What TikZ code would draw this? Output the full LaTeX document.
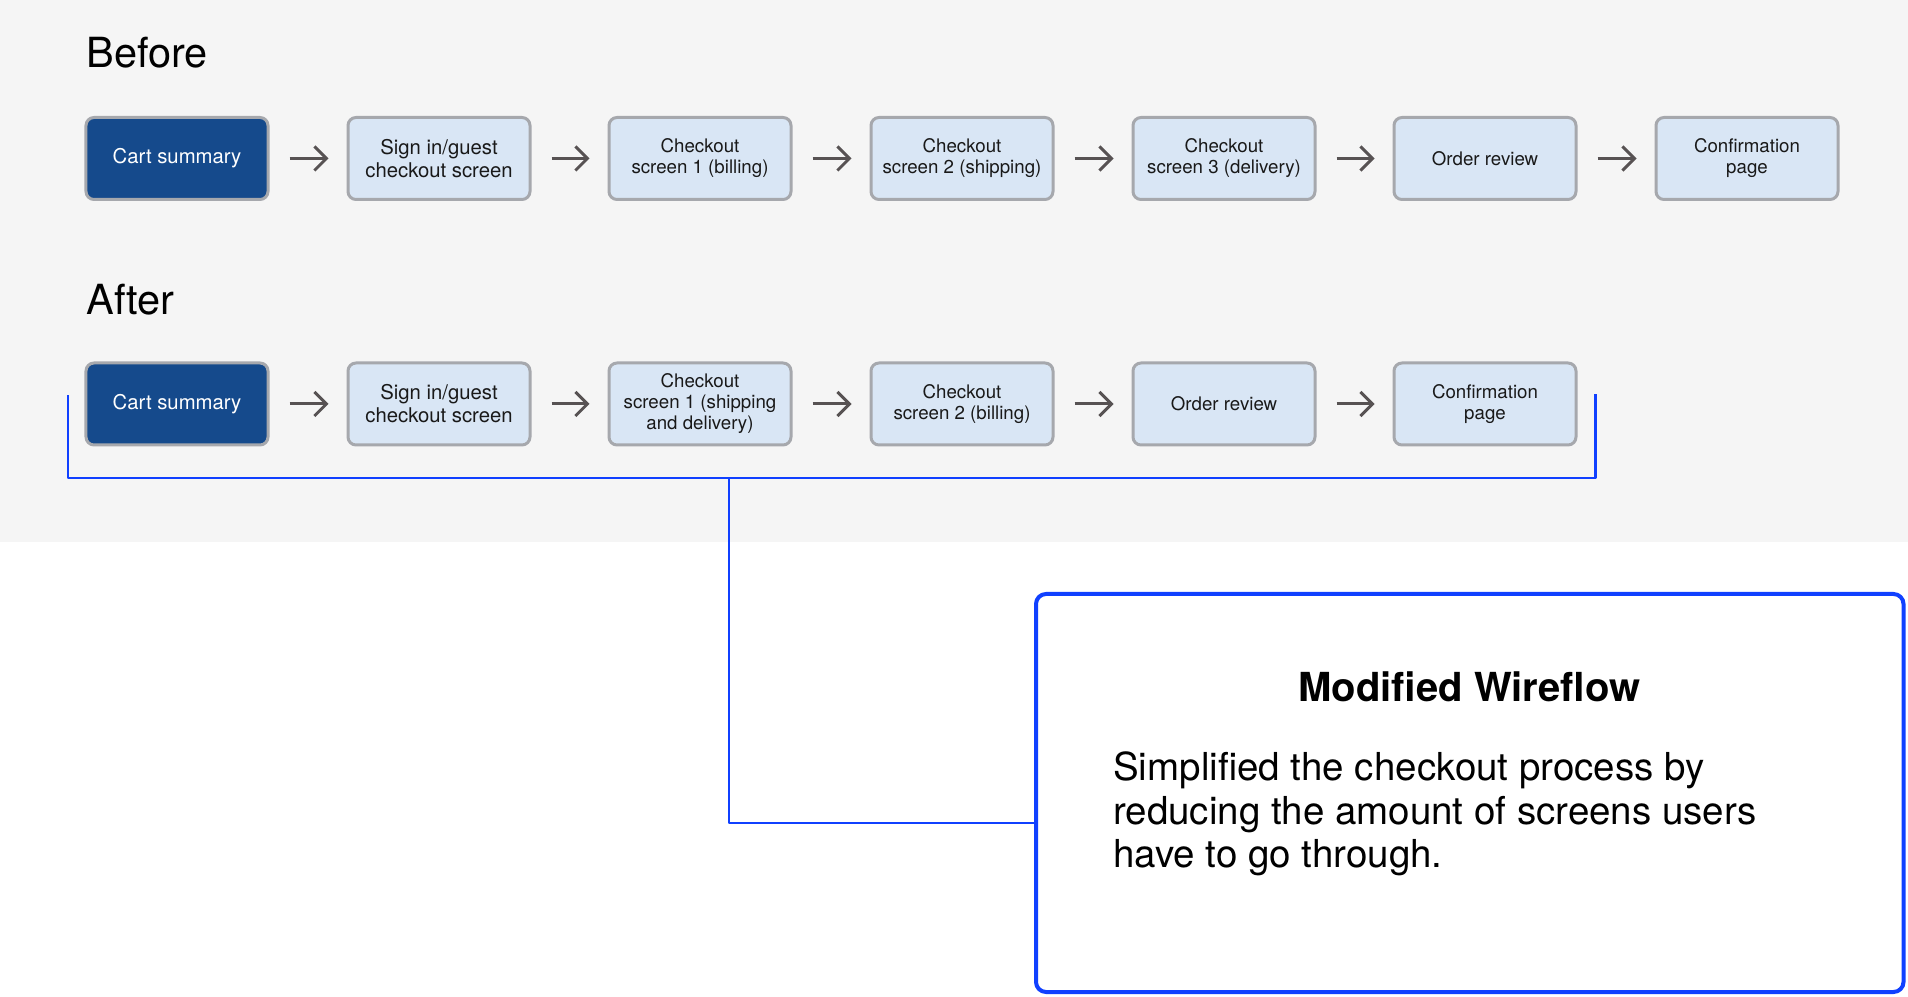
\documentclass[tikz,border=0pt]{standalone}
\usepackage{fontspec}
\setmainfont{TeX Gyre Heros}
\usetikzlibrary{arrows.meta}
\definecolor{panelgray}{HTML}{F5F5F5}
\definecolor{boxfill}{HTML}{D9E6F5}
\definecolor{boxline}{HTML}{A6A8AD}
\definecolor{cartblue}{HTML}{154A8C}
\definecolor{arrowgray}{HTML}{575253}
\definecolor{markblue}{HTML}{1040FF}

\begin{document}
\begin{tikzpicture}[x=1bp,y=1bp,line join=round,
  screen/.style={draw=boxline,fill=boxfill,line width=3bp,rounded corners=8bp,
    minimum width=182bp,minimum height=82bp,align=center,text=black!90,
    font=\fontsize{18.7bp}{21bp}\selectfont},
  bigscreen/.style={screen,font=\fontsize{20.3bp}{23bp}\selectfont},
  cart/.style={bigscreen,fill=cartblue,text=white},
  flow/.style={draw=arrowgray,line width=3bp,-{Straight Barb[length=12bp,width=24bp]},
    shorten <=20bp,shorten >=18bp},
  markline/.style={draw=markblue,line width=2.2bp},
  heading/.style={anchor=base west,font=\fontsize{41.5bp}{48bp}\selectfont}]
\useasboundingbox (0,0) rectangle (1908,996);
\fill [panelgray] (0,454.3) rectangle (1908,996);
%%
\node (label_before) at (83,928) [heading] {Before};
\node (label_after) at (83,681.5) [heading] {After};
%
\node (before_0) at (177,837.5) [cart] {Cart summary};
  \node (before_1) at (439,837.5) [bigscreen] {Sign in/guest\\checkout screen};
  \node (before_2) at (700,837.5) [screen] {Checkout\\screen 1 (billing)};
  \node (before_3) at (962,837.5) [screen] {Checkout\\screen 2 (shipping)};
  \node (before_4) at (1224,837.5) [screen] {Checkout\\screen 3 (delivery)};
  \node (before_5) at (1485,837.5) [screen] {Order review};
  \node (before_6) at (1747,837.5) [screen] {Confirmation\\page};
  \draw [flow] (before_0) -- (before_1);
  \draw [flow] (before_1) -- (before_2);
  \draw [flow] (before_2) -- (before_3);
  \draw [flow] (before_3) -- (before_4);
  \draw [flow] (before_4) -- (before_5);
  \draw [flow] (before_5) -- (before_6);
%
\node (after_0) at (177,592) [cart] {Cart summary};
  \node (after_1) at (439,592) [bigscreen] {Sign in/guest\\checkout screen};
  \node (after_2) at (700,592) [screen] {Checkout\\screen 1 (shipping\\and delivery)};
  \node (after_3) at (962,592) [screen] {Checkout\\screen 2 (billing)};
  \node (after_4) at (1224,592) [screen] {Order review};
  \node (after_5) at (1485,592) [screen] {Confirmation\\page};
  \draw [flow] (after_0) -- (after_1);
  \draw [flow] (after_1) -- (after_2);
  \draw [flow] (after_2) -- (after_3);
  \draw [flow] (after_3) -- (after_4);
  \draw [flow] (after_4) -- (after_5);
%
\coordinate (brk_nw) at (68,600.5);
  \coordinate (brk_sw) at (68,518);
  \coordinate (brk_se) at (1595.5,518);
  \coordinate (brk_ne) at (1595.5,602);
  \coordinate (brk_tap) at (729,518);
  \draw [markline] (brk_nw) -- (brk_sw) -- (brk_se) -- (brk_ne);
%
\node (note) at (1469.75,203) [draw=markblue,line width=4bp,rounded corners=10bp,
    minimum width=867.5bp,minimum height=398bp] {};
  \node (note_title) at (1469.5,294) [anchor=base,
    font=\bfseries\fontsize{40bp}{46bp}\selectfont] {Modified Wireflow};
  \node (note_text) at (1113,128) [anchor=base west,align=left,inner sep=0pt,
    font=\fontsize{38.5bp}{43.5bp}\selectfont]
    {Simplified the checkout process by\\reducing the amount of screens users\\have to go through.};
  \draw [markline] (brk_tap) |- ([yshift=-30bp]note.west);
%
\end{tikzpicture}
\end{document}
